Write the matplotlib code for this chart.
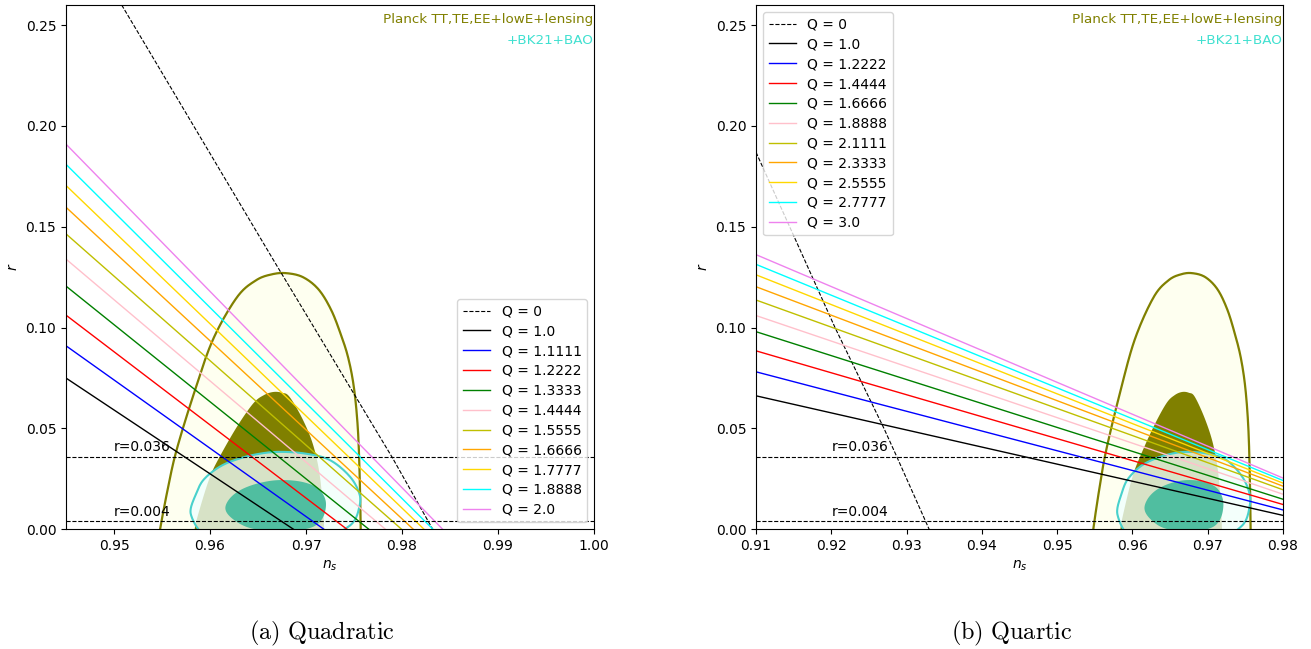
import matplotlib.pyplot as plt
import numpy as np

# Q values for each model
q_quad = ['1.0', '1.1111', '1.2222', '1.3333', '1.4444', '1.5555',
          '1.6666', '1.7777', '1.8888', '2.0']
q_quart = ['1.0', '1.2222', '1.4444', '1.6666', '1.8888', '2.1111',
           '2.3333', '2.5555', '2.7777', '3.0']
line_colors = ['black', 'blue', 'red', 'green', 'pink', 'y',
               'orange', 'gold', 'cyan', 'violet']

# Quadratic: r at ns=0.945 and ns where r=0
quad_ns_left = 0.945
quad_r_left = [0.0750, 0.0910, 0.1062, 0.1206, 0.1340, 0.1465,
               0.1597, 0.1705, 0.1810, 0.1910]
quad_ns_zero = [0.96870, 0.97187, 0.97427, 0.97655, 0.97828, 0.97996,
                0.98118, 0.98230, 0.98323, 0.98424]
quad_q0_ns = [0.9508, 0.9668, 0.9790, 0.9832]
quad_q0_r = [0.26, 0.1320, 0.0355, 0.0]

# Quartic: r at ns=0.91 and ns=0.98
quart_ns = [0.91, 0.98]
quart_r_left = [0.0662, 0.0781, 0.0885, 0.0980, 0.1060, 0.1137,
                0.1203, 0.1262, 0.1314, 0.1362]
quart_r_right = [0.0069, 0.0096, 0.0123, 0.0149, 0.0174, 0.0196,
                 0.0214, 0.0229, 0.0242, 0.0254]
quart_q0_ns = [0.9100, 0.9152, 0.9205, 0.9270, 0.9287, 0.9330]
quart_q0_r = [0.187, 0.144, 0.100, 0.050, 0.036, 0.0]

# Planck TT,TE,EE+lowE+lensing contours
planck95_ns = [0.9546, 0.9548, 0.9556, 0.9565, 0.9583, 0.9603, 0.9628, 0.9648,
               0.9665, 0.9680, 0.9697, 0.9713, 0.9726, 0.9736, 0.9744, 0.9750,
               0.9754, 0.9756, 0.9757, 0.9757]
planck95_r = [-0.008, 0.000, 0.020, 0.039, 0.067, 0.094, 0.1150, 0.1235,
              0.1265, 0.1270, 0.1250, 0.1190, 0.1090, 0.0970, 0.0850, 0.0700,
              0.0500, 0.0250, 0.0000, -0.008]
planck68_ns = [0.9584, 0.9584, 0.9590, 0.9600, 0.9610, 0.9628, 0.9645, 0.9656,
               0.9666, 0.9675, 0.9683, 0.9697, 0.9708, 0.9715, 0.9719, 0.9719]
planck68_r = [-0.008, 0.000, 0.0112, 0.0260, 0.0359, 0.0508, 0.0624, 0.0665,
              0.0681, 0.0677, 0.0656, 0.0541, 0.0409, 0.0244, 0.0000, -0.008]

# +BK21+BAO contours
bk95_ns = [0.9600, 0.9588, 0.9581, 0.9580, 0.9585, 0.9593, 0.9610, 0.9630,
           0.9652, 0.9673, 0.9700, 0.9725, 0.9746, 0.9756, 0.9755, 0.9750,
           0.9740, 0.9720]
bk95_r = [-0.005, 0.000, 0.006, 0.0104, 0.0170, 0.0244, 0.0310, 0.0350,
          0.0375, 0.0384, 0.0375, 0.0343, 0.0260, 0.0170, 0.0100, 0.0040,
          0.0000, -0.005]
bk68_ns = [0.9616, 0.9621, 0.9633, 0.9651, 0.9672, 0.9695, 0.9712, 0.9720,
           0.9720, 0.9715, 0.9705, 0.9685, 0.9660, 0.9638, 0.9622]
bk68_r = [0.0104, 0.0155, 0.0198, 0.0229, 0.0244, 0.0236, 0.0205, 0.0150,
          0.0090, 0.0040, 0.0008, -0.0008, -0.0008, 0.0012, 0.0058]

r_bounds = [0.036, 0.004]

plt.rcParams['font.family'] = 'DejaVu Sans'


def smooth(xs, ys, n = 16):
    # closed Catmull-Rom curve through the read-off contour points
    p = np.column_stack([xs, ys])
    m = len(p)
    t = np.linspace(0, 1, n, endpoint = False)[:, None]
    out = []
    for i in range(m):
        p0, p1, p2, p3 = p[i - 1], p[i], p[(i + 1) % m], p[(i + 2) % m]
        out.append(0.5 * (2 * p1 + (-p0 + p2) * t + (2 * p0 - 5 * p1 + 4 * p2 - p3) * t ** 2
                          + (-p0 + 3 * p1 - 3 * p2 + p3) * t ** 3))
    out = np.vstack(out + [p[:1]])
    return out[:, 0], out[:, 1]


fig = plt.figure(figsize = (13.11, 6.49), dpi = 100)
W, H = 1311, 649
ax1 = fig.add_axes([66 / W, 1 - 529.3 / H, 528 / W, 524.3 / H])
ax2 = fig.add_axes([756 / W, 1 - 529.3 / H, 527 / W, 524.3 / H])


def draw_contours(ax):
    x, y = smooth(planck95_ns, planck95_r)
    ax.fill(x, y, facecolor = '#fefff0', edgecolor = 'none', zorder = 1)
    ax.plot(x, y, color = 'olive', linewidth = 1.6, zorder = 1.2)
    x, y = smooth(planck68_ns, planck68_r)
    ax.fill(x, y, facecolor = 'olive', edgecolor = 'none', zorder = 1.1)
    x, y = smooth(bk95_ns, bk95_r)
    ax.fill(x, y, facecolor = 'azure', alpha = 0.78, edgecolor = 'none', zorder = 1.3)
    ax.plot(x, y, color = 'mediumturquoise', linewidth = 1.5, zorder = 1.4)
    x, y = smooth(bk68_ns, bk68_r)
    ax.fill(x, y, facecolor = '#50bea0', edgecolor = 'none', zorder = 1.5)


def finish(ax, xlim, xticks, text_x):
    for rb in r_bounds:
        ax.axhline(rb, color = 'black', linestyle = '--', linewidth = 0.8, zorder = 3)
        ax.text(text_x, rb + 0.0012, f'r={rb}', fontsize = 10, va = 'bottom', zorder = 3)
    ax.set_xlim(*xlim)
    ax.set_ylim(0, 0.26)
    ax.set_xticks(xticks)
    ax.set_yticks([0.0, 0.05, 0.10, 0.15, 0.20, 0.25])
    ax.set_xlabel(r'$n_s$')
    ax.set_ylabel(r'$r$')
    ax.text(0.999, 0.985, 'Planck TT,TE,EE+lowE+lensing', color = 'olive', fontsize = 9.7,
            ha = 'right', va = 'top', transform = ax.transAxes)
    ax.text(0.999, 0.945, '+BK21+BAO', color = 'turquoise', fontsize = 9.7,
            ha = 'right', va = 'top', transform = ax.transAxes)


# (a) Quadratic
draw_contours(ax1)
ax1.plot(quad_q0_ns, quad_q0_r, color = 'black', linestyle = '--', linewidth = 0.8,
         label = 'Q = 0', zorder = 2)
for q, c, r0, nz in zip(q_quad, line_colors, quad_r_left, quad_ns_zero):
    ax1.plot([quad_ns_left, nz], [r0, 0.0], color = c, linewidth = 1.0,
             label = f'Q = {q}', zorder = 2)
finish(ax1, (0.945, 1.0), [0.95, 0.96, 0.97, 0.98, 0.99, 1.00], 0.95)
ax1.legend(loc = 'lower right', fontsize = 10, labelspacing = 0.42)

# (b) Quartic
draw_contours(ax2)
ax2.plot(quart_q0_ns, quart_q0_r, color = 'black', linestyle = '--', linewidth = 0.8,
         label = 'Q = 0', zorder = 2)
for q, c, rl, rr in zip(q_quart, line_colors, quart_r_left, quart_r_right):
    ax2.plot(quart_ns, [rl, rr], color = c, linewidth = 1.0,
             label = f'Q = {q}', zorder = 2)
finish(ax2, (0.91, 0.98), [0.91, 0.92, 0.93, 0.94, 0.95, 0.96, 0.97, 0.98], 0.92)
ax2.legend(loc = 'upper left', fontsize = 10, labelspacing = 0.42)

# Sub-captions
fig.text(322 / W, 1 - 633 / H, r'$\mathrm{(a)\ Quadratic}$', fontsize = 17.5,
         ha = 'center', va = 'center', math_fontfamily = 'cm')
fig.text(1012 / W, 1 - 633 / H, r'$\mathrm{(b)\ Quartic}$', fontsize = 17.5,
         ha = 'center', va = 'center', math_fontfamily = 'cm')

fig.savefig('out.png', dpi = 100)
